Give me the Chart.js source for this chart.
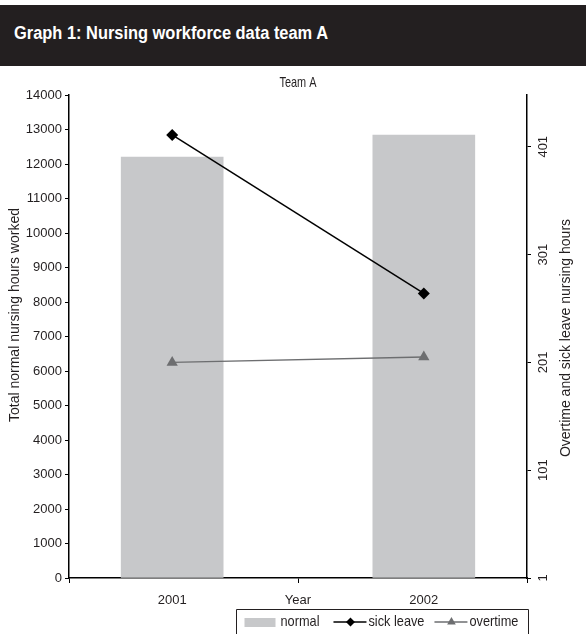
<!DOCTYPE html>
<html>
<head>
<meta charset="utf-8">
<script src="https://cdn.jsdelivr.net/npm/chart.js@4.4.1/dist/chart.umd.min.js"></script>
<style>
  body { margin: 0; background: #fff; width: 586px; height: 634px; overflow: hidden; }
  #head {
    margin-top: 5px; height: 61px; background: #231f20; color: #fff;
    font: bold 18px "Liberation Sans", Arial, sans-serif;
    line-height: 56px; padding-left: 14px; box-sizing: border-box; white-space: nowrap;
  }
  #head span { display: inline-block; transform-origin: 0 50%; }
  #wrap { width: 586px; height: 568px; position: relative; }
</style>
</head>
<body>
<div id="head"><span id="headText">Graph 1: Nursing workforce data team A</span></div>
<div id="wrap"><canvas id="chart"></canvas></div>
<script>
// data
const years = ['2001', '2002'];
const normalHours = [12200, 12840];
const sickLeave = [412, 265];
const overtime = [201, 206];
const rightTicks = [1, 101, 201, 301, 401];

const FONT = '"Liberation Sans", Arial, sans-serif';
const INK = '#231f20';
const BAR_GREY = '#c7c8ca';
const LINE_GREY = '#6d6e70';

Chart.defaults.font.family = FONT;
Chart.defaults.font.size = 13;
Chart.defaults.color = INK;

// squeeze the header to look like the condensed face in the original
const head = document.getElementById('headText');
head.style.transform = 'scaleX(' + (314 / head.getBoundingClientRect().width) + ')';

function xLabel(v) {
  if (v === 0) return years[0];
  if (v === 1) return years[1];
  if (v === 0.5) return 'Year';
  return '';
}

// text helper: optional rotation, squeezed along the text direction
function drawText(ctx, text, x, y, o) {
  ctx.save();
  ctx.translate(x, y);
  if (o.rotate) ctx.rotate(o.rotate);
  ctx.font = o.size + 'px ' + FONT;
  const w = ctx.measureText(text).width;
  const s = o.width ? o.width / w : (o.squeeze || 1);
  ctx.scale(s, 1);
  ctx.textAlign = o.align || 'center';
  ctx.textBaseline = 'middle';
  ctx.fillText(text, 0, 0);
  ctx.restore();
  return w * s;
}

const extrasPlugin = {
  id: 'extras',
  afterDraw(chart) {
    const ctx = chart.ctx;
    const area = chart.chartArea;
    const y1 = chart.scales.y1;
    const y = chart.scales.y;
    ctx.save();
    ctx.fillStyle = INK;

    drawText(ctx, 'Team A', (area.left + area.right) / 2, 17, { size: 15, width: 37 });

    // axis titles read bottom to top
    drawText(ctx, 'Total normal nursing hours worked', y.left + 15, 249,
      { size: 14, rotate: -Math.PI / 2 });
    drawText(ctx, 'Overtime and sick leave nursing hours', y1.left + 39, 272,
      { size: 14, rotate: -Math.PI / 2 });

    rightTicks.forEach(v => {
      drawText(ctx, String(v), y1.left + 16, y1.getPixelForValue(v),
        { size: 13, rotate: -Math.PI / 2 });
    });

    // legend
    const boxRight = area.right + 1.5;
    const boxLeft = 236.5;
    const boxTop = 543.5;
    const midY = 556;
    ctx.strokeStyle = INK;
    ctx.lineWidth = 1;
    ctx.beginPath();
    ctx.moveTo(boxLeft, chart.height);
    ctx.lineTo(boxLeft, boxTop);
    ctx.lineTo(boxRight, boxTop);
    ctx.lineTo(boxRight, chart.height);
    ctx.stroke();

    let x = boxLeft + 8;
    ctx.fillStyle = BAR_GREY;
    ctx.fillRect(x, midY - 4, 31, 9);
    x += 36;
    ctx.fillStyle = INK;
    x += drawText(ctx, 'normal', x, midY, { size: 15, squeeze: 0.85, align: 'left' }) + 14;

    const items = [
      { label: 'sick leave', color: '#000', style: 'rectRot', r: 4.5 },
      { label: 'overtime', color: LINE_GREY, style: 'triangle', r: 5 }
    ];
    items.forEach(it => {
      ctx.strokeStyle = it.color;
      ctx.lineWidth = 1.5;
      ctx.beginPath();
      ctx.moveTo(x, midY);
      ctx.lineTo(x + 33, midY);
      ctx.stroke();
      ctx.fillStyle = it.color;
      Chart.helpers.drawPoint(ctx, { pointStyle: it.style, radius: it.r, rotation: 0, borderWidth: 0 }, x + 17, midY);
      x += 35;
      ctx.fillStyle = INK;
      x += drawText(ctx, it.label, x, midY, { size: 15, squeeze: 0.85, align: 'left' }) + 10;
    });
    ctx.restore();
  }
};

new Chart(document.getElementById('chart'), {
  data: {
    datasets: [
      {
        type: 'line',
        label: 'sick leave',
        data: sickLeave.map((v, i) => ({ x: i, y: v })),
        yAxisID: 'y1',
        borderColor: '#000',
        borderWidth: 1.5,
        pointStyle: 'rectRot',
        pointRadius: 6,
        pointBackgroundColor: '#000',
        pointBorderWidth: 0,
        order: 1
      },
      {
        type: 'line',
        label: 'overtime',
        data: overtime.map((v, i) => ({ x: i, y: v })),
        yAxisID: 'y1',
        borderColor: LINE_GREY,
        borderWidth: 1.5,
        pointStyle: 'triangle',
        pointRadius: 6.5,
        pointBackgroundColor: LINE_GREY,
        pointBorderWidth: 0,
        order: 2
      },
      {
        type: 'bar',
        label: 'normal',
        data: normalHours.map((v, i) => ({ x: i, y: v })),
        yAxisID: 'y',
        backgroundColor: BAR_GREY,
        barThickness: 102,
        order: 3
      }
    ]
  },
  options: {
    responsive: true,
    maintainAspectRatio: false,
    animation: false,
    layout: { padding: { top: 29, left: 0, right: 0, bottom: 0 } },
    plugins: {
      legend: { display: false },
      tooltip: { enabled: false }
    },
    scales: {
      x: {
        type: 'linear',
        offset: false,
        min: -0.41,
        max: 1.41,
        afterBuildTicks(s) { s.ticks = [-0.41, 0, 0.5, 1, 1.41].map(v => ({ value: v })); },
        afterFit(s) { s.height = 56; },
        ticks: { callback: v => xLabel(v), padding: 10, autoSkip: false, maxRotation: 0 },
        grid: {
          offset: false,
          drawOnChartArea: false,
          tickLength: 5,
          color: c => (c.tick && (c.tick.value === 0 || c.tick.value === 1)) ? 'transparent' : '#000'
        },
        border: { color: '#000', width: 1.5 }
      },
      y: {
        position: 'left',
        min: 0,
        max: 14000,
        ticks: { stepSize: 1000, padding: 3, callback: v => String(v) },
        afterFit(s) { s.width = 69; },
        grid: { drawOnChartArea: false, tickLength: 4, color: '#000' },
        border: { color: '#000', width: 1.5 }
      },
      y1: {
        position: 'right',
        min: 1,
        max: 449,
        afterBuildTicks(s) { s.ticks = rightTicks.map(v => ({ value: v })); },
        afterFit(s) { s.width = 59; },
        ticks: { display: false },
        grid: { drawOnChartArea: false, tickLength: 4, color: '#000' },
        border: { color: '#000', width: 1.5 }
      }
    }
  },
  plugins: [extrasPlugin]
});
</script>
</body>
</html>
